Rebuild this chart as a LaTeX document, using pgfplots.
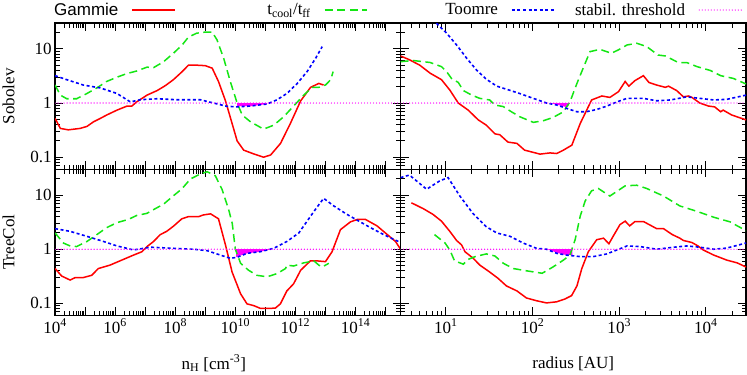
\documentclass[border=0pt]{standalone}
\usepackage{fontspec}
\setmainfont{Liberation Serif}
\setsansfont{Liberation Sans}
\usepackage{pgfplots}
\pgfplotsset{compat=1.18}
\usepgfplotslibrary{groupplots}
\usetikzlibrary{calc}
\definecolor{gRed}{RGB}{255,0,0}
\definecolor{gGreen}{RGB}{20,230,20}
\definecolor{gBlue}{RGB}{0,0,255}
\definecolor{gMag}{RGB}{255,0,255}

\pgfplotsset{
  gammie/.style={color=gRed, line width=1.5pt, solid},
  tcool/.style={color=gGreen, line width=1.5pt, dash pattern=on 8pt off 4.5pt},
  toomre/.style={color=gBlue, line width=1.6pt, dash pattern=on 3pt off 2.5pt},
  stabline/.style={draw=gMag, line width=1.4pt, line cap=round, dash pattern=on 0pt off 3pt},
  stabfill/.style={fill=gMag, draw=none, forget plot},
}

\begin{document}
\begin{tikzpicture}[font=\fontsize{17}{20}\selectfont]
\begin{groupplot}[
  group style={group size=2 by 2, horizontal sep=0pt, vertical sep=0pt},
  width=345pt, height=146pt, scale only axis,
  xmode=log, ymode=log, ymin=0.06, ymax=30,
  ytick={0.1,1,10},
  minor ytick={0.06,0.07,0.08,0.09,0.2,0.3,0.4,0.5,0.6,0.7,0.8,0.9,2,3,4,5,6,7,8,9,20},
  major tick length=8pt, minor tick length=4.5pt,
  every tick/.style={black, line width=1pt},
  axis line style={line width=1.2pt},
  tick label style={font=\fontsize{17}{20}\selectfont},
  label style={font=\fontsize{17}{20}\selectfont},
  every axis y label/.style={at={(axis description cs:-0.135,0.5)}, rotate=90, anchor=center},
  every axis x label/.style={at={(axis description cs:0.5,0)}, anchor=center, yshift=-48pt},
  legend plot pos=right,
  legend image code/.code={\path[draw=none] (0pt,0pt) -- (58pt,0pt); \draw[#1] (14pt,0pt) -- (56pt,0pt);},
]
% ---- Sobolev, density
\nextgroupplot[xmin=1e4, xmax=3.16e15,
  xtick={1e4,1e5,1e6,1e7,1e8,1e9,1e10,1e11,1e12,1e13,1e14,1e15}, xticklabels={},
  yticklabels={0.1,1,10}, ylabel={Sobolev},
  legend columns=4,
  legend style={at={(axis description cs:-0.02,1.089)}, anchor=west, draw=none, fill=none,
    inner sep=0pt, column sep=0pt, nodes={inner sep=0pt}, font=\fontsize{17}{20}\selectfont}]
\addplot[stabfill] coordinates {(1.15e10,1) (1.15e10,0.88) (3.2e10,0.87) (1.15e11,0.96) (1.15e11,1)};
\addplot[gammie] coordinates {(1e4,0.52) (1.5e4,0.34) (2.75e4,0.32) (6.8e4,0.34) (1.15e5,0.37) (1.9e5,0.45) (3.2e5,0.52) (5.2e5,0.6) (1.15e6,0.74) (2.5e6,0.88) (3.6e6,0.88) (5.2e6,1.05) (1.15e7,1.4) (2.5e7,1.7) (4.7e7,2.1) (8.7e7,2.7) (1.7e8,3.8) (2.75e8,5.0) (5.2e8,5.0) (1e9,4.9) (1.7e9,4.4) (2.75e9,2.5) (4.7e9,1.1) (7.8e9,0.42) (1.15e10,0.2) (1.9e10,0.135) (4.1e10,0.115) (8.7e10,0.1) (1.5e11,0.11) (3.2e11,0.18) (6.8e11,0.42) (1.5e12,1.1) (3.2e12,1.95) (6e12,2.3) (8.7e12,2.15)};
\addlegendentry{\makebox[70pt][r]{\sffamily Gammie}}
\addplot[tcool] coordinates {(1e4,2.15) (1.5e4,1.4) (2.45e4,1.2) (5.2e4,1.2) (1.15e5,1.5) (2.45e5,1.9) (5.2e5,2.5) (1.15e6,3.0) (2.45e6,3.5) (5.2e6,3.9) (1.15e7,4.6) (1.9e7,4.5) (4.1e7,5.8) (8.7e7,8.3) (1.7e8,11.8) (2.75e8,16.5) (5.2e8,19.5) (1e9,20.4) (1.7e9,20.4) (2.45e9,14.7) (4.1e9,6.7) (6.8e9,2.5) (1.15e10,1.0) (1.7e10,0.6) (3.2e10,0.45) (8.7e10,0.33) (1.9e11,0.39) (4.1e11,0.56) (8.7e11,0.88) (1.9e12,1.4) (3.6e12,1.95) (6e12,1.95) (1e13,2.15) (1.5e13,2.7) (1.8e13,3.8)};
\addlegendentry{\makebox[134pt][r]{t\textsubscript{cool}/t\textsubscript{ff}}}
\addplot[toomre] coordinates {(1e4,3.2) (2.45e4,2.7) (8.7e4,2.15) (3.2e5,1.9) (1.15e6,1.5) (3.2e6,1.05) (6.8e6,1.15) (2.45e7,1.2) (1.15e8,1.15) (6.8e8,1.15) (1.9e9,1.0) (5.2e9,0.87) (1.15e10,0.85) (3.2e10,0.88) (1.15e11,0.96) (2.45e11,1.15) (5.2e11,1.5) (1.15e12,2.3) (2.45e12,3.8) (4.7e12,6.7) (7.8e12,11)};
\addlegendentry{\makebox[129pt][r]{Toomre}}
\addplot[stabline] coordinates {(1e4,1) (3.16e15,1)};
\addlegendentry{\makebox[129pt][r]{stabil. threshold}}

% ---- Sobolev, radius
\nextgroupplot[xmin=3, xmax=2.9e4,
  xtick={10,100,1000,10000}, xticklabels={},
  minor xtick={4,5,6,7,8,9,20,30,40,50,60,70,80,90,200,300,400,500,600,700,800,900,2000,3000,4000,5000,6000,7000,8000,9000,20000},
  yticklabels={}]
\addplot[stabfill] coordinates {(160,1) (240,0.85) (260,0.88) (260,1)};
\addplot[gammie] coordinates {(3.0,7.4) (3.8,6.3) (5.0,5.0) (6.6,3.55) (8.9,2.7) (11.1,1.74) (13.9,1.0) (18.1,0.74) (23.6,0.49) (29.3,0.39) (36.8,0.27) (41.9,0.26) (52,0.19) (66,0.18) (81,0.135) (122,0.114) (159,0.12) (190,0.117) (227,0.135) (284,0.167) (355,0.42) (480,1.14) (630,1.35) (780,1.27) (980,1.62) (1170,2.5) (1290,2.05) (1520,2.6) (1900,3.2) (2200,2.4) (2700,2.15) (3400,1.95) (3700,2.05) (4600,1.7) (5500,1.3) (6300,1.35) (6900,1.27) (8500,1.0) (10700,0.88) (12600,0.85) (14800,0.69) (15800,0.74) (19900,0.6) (29000,0.49)};
\addplot[tcool] coordinates {(3.0,5.8) (4.2,6.1) (6.6,5.6) (8.9,4.7) (10.2,3.8) (11.6,2.85) (13.9,2.4) (15.9,1.7) (19.9,1.4) (24.6,1.22) (32,1.14) (36.8,0.92) (46,0.86) (57,0.69) (71,0.56) (102,0.44) (132,0.47) (172,0.54) (227,0.69) (270,1.05) (325,2.3) (390,4.7) (460,8.9) (600,9.8) (810,8.3) (980,9.6) (1230,11.8) (1590,12.7) (2080,11) (2800,7.7) (3400,7.4) (4800,5.6) (6000,5.6) (7900,4.7) (11200,4.0) (14800,3.2) (20700,2.85) (29000,2.25)};
\addplot[toomre] coordinates {(7.0,35) (10.2,19.5) (13.3,11.8) (17.4,6.7) (22.5,4.1) (29.3,2.75) (38.6,2.05) (50,1.8) (71,1.5) (102,1.22) (145,1.0) (190,0.92) (245,0.8) (325,0.69) (415,0.69) (550,0.76) (720,0.88) (940,1.05) (1230,1.22) (1900,1.22) (2700,1.1) (3900,1.14) (6000,1.3) (8500,1.22) (12300,1.14) (17400,1.17) (29000,1.4)};
\addplot[stabline] coordinates {(3,1) (2.9e4,1)};

% ---- TreeCol, density
\nextgroupplot[xmin=1e4, xmax=3.16e15,
  xtick={1e4,1e5,1e6,1e7,1e8,1e9,1e10,1e11,1e12,1e13,1e14,1e15},
  xticklabels={10\textsuperscript{4},,10\textsuperscript{6},,10\textsuperscript{8},,10\textsuperscript{10},,10\textsuperscript{12},,10\textsuperscript{14},},
  yticklabels={0.1,1,10}, ylabel={TreeCol},
  xlabel={n\textsubscript{H} [cm\textsuperscript{-3}]}, xlabel style={xshift=-14pt}]
\addplot[stabfill] coordinates {(1.07e10,1) (1.07e10,0.72) (2.45e10,0.84) (6.8e10,0.9) (1.6e11,1)};
\addplot[gammie] coordinates {(1e4,0.44) (1.66e4,0.32) (3.16e4,0.27) (4.7e4,0.3) (8.7e4,0.3) (1.66e5,0.33) (2.75e5,0.44) (6.8e5,0.51) (1.66e6,0.63) (4.1e6,0.78) (7.8e6,0.9) (1.15e7,1.12) (1.9e7,1.39) (3.16e7,1.86) (5.2e7,2.14) (8.7e7,2.66) (1.66e8,3.65) (2.75e8,4.0) (6e8,4.0) (8.7e8,4.3) (1.5e9,4.5) (2.75e9,3.65) (4.7e9,1.2) (7.8e9,0.38) (1.5e10,0.15) (2.45e10,0.098) (4.1e10,0.091) (6.8e10,0.081) (1.5e11,0.081) (2.15e11,0.082) (3.16e11,0.098) (5.2e11,0.17) (8.7e11,0.23) (1.5e12,0.41) (3.16e12,0.61) (5.2e12,0.61) (1e13,0.59) (1.66e13,0.9) (3.16e13,2.3) (6.8e13,3.2) (1.15e14,3.55) (2.15e14,3.55) (5.2e14,2.7) (1.15e15,1.86) (2.15e15,1.39) (3.16e15,1.0)};
\addplot[tcool] coordinates {(1e4,2.0) (1.9e4,1.3) (3.16e4,1.15) (5.2e4,1.12) (1.15e5,1.39) (2.45e5,1.86) (5.2e5,2.5) (1.15e6,3.1) (2.75e6,3.55) (5.2e6,4.2) (1.15e7,4.6) (2.15e7,5.6) (4.1e7,6.8) (8.7e7,9.7) (1.66e8,13) (3.2e8,19.8) (6.8e8,24.5) (1.15e9,27) (2.15e9,22.8) (3.6e9,12.8) (6e9,5.4) (7.9e9,3.0) (1e10,1.0) (1.5e10,0.55) (2.75e10,0.41) (5.2e10,0.33) (1.15e11,0.31) (2.45e11,0.355) (4.7e11,0.44) (5.2e11,0.51) (8.7e11,0.49) (1.9e12,0.56) (4.1e12,0.61) (6e12,0.51) (7.8e12,0.47) (1.3e13,0.55)};
\addplot[toomre] coordinates {(1e4,2.4) (3.16e4,2.14) (1.15e5,1.73) (4.1e5,1.39) (1.15e6,1.15) (4.1e6,0.97) (1.5e7,1.09) (8.7e7,1.04) (4.1e8,1.0) (1.15e9,0.94) (3.16e9,0.78) (6.8e9,0.68) (1.15e10,0.71) (2.45e10,0.84) (6.8e10,0.9) (1.9e11,1.04) (5.2e11,1.39) (1.3e12,2.0) (2.45e12,3.3) (4.7e12,5.5) (8.7e12,8.7) (1.9e13,6.3) (5.2e13,4.4) (1.3e14,3.3) (3.16e14,2.5) (8.7e14,1.86) (3.16e15,1.33)};
\addplot[stabline] coordinates {(1e4,1) (3.16e15,1)};

% ---- TreeCol, radius
\nextgroupplot[xmin=3, xmax=2.9e4,
  xtick={10,100,1000,10000},
  xticklabels={10\textsuperscript{1},10\textsuperscript{2},10\textsuperscript{3},10\textsuperscript{4}},
  minor xtick={4,5,6,7,8,9,20,30,40,50,60,70,80,90,200,300,400,500,600,700,800,900,2000,3000,4000,5000,6000,7000,8000,9000,20000},
  yticklabels={}, xlabel={radius [AU]}]
\addplot[stabfill] coordinates {(150,1) (190,0.86) (245,0.78) (288,0.79) (288,1)};
\addplot[gammie] coordinates {(4.0,7.2) (5.5,5.6) (7.1,4.4) (8.9,3.3) (11.1,2.14) (13.3,1.45) (15.2,1.2) (16.6,0.9) (20.7,0.68) (24.6,0.51) (32,0.38) (40,0.29) (50,0.21) (66,0.17) (85,0.126) (111,0.112) (145,0.102) (190,0.107) (235,0.12) (282,0.139) (325,0.21) (370,0.44) (440,0.9) (550,1.5) (660,1.6) (760,1.26) (850,1.73) (1020,2.85) (1170,3.3) (1320,2.7) (1520,3.25) (1900,3.25) (2400,2.66) (2700,2.4) (3240,2.4) (4100,1.86) (5000,1.6) (5500,1.45) (6900,1.33) (8100,1.15) (9300,0.97) (12300,0.78) (17400,0.63) (22900,0.56) (29000,0.47)};
\addplot[tcool] coordinates {(7.4,1.86) (9.8,1.3) (11.1,0.97) (12.6,0.61) (15.9,0.53) (18.1,0.65) (21.7,0.73) (29.3,0.82) (36.8,0.75) (46,0.55) (60,0.44) (85,0.4) (129,0.36) (172,0.47) (227,0.63) (270,0.78) (310,1.5) (355,4.1) (405,7.8) (480,12) (575,13.2) (780,9.6) (1170,14.8) (1590,15.2) (2080,13.2) (3240,9.6) (5000,6.3) (7900,5.0) (12300,3.9) (19000,3.2) (29000,2.2)};
\addplot[toomre] coordinates {(3.0,21) (3.8,23.4) (6.0,12.8) (8.5,18.3) (10.6,21) (14.5,9.6) (20.7,4.5) (29.3,2.6) (38.6,2.0) (55,1.73) (78,1.3) (111,1.04) (145,1.0) (190,0.84) (245,0.78) (355,0.73) (500,0.73) (720,0.82) (940,0.97) (1230,1.15) (1740,1.12) (2700,1.0) (4270,1.09) (6000,1.15) (8500,1.09) (12300,1.0) (17400,1.05) (29000,1.3)};
\addplot[stabline] coordinates {(3,1) (2.9e4,1)};
\end{groupplot}
\pgfresetboundingbox
\path[use as bounding box] ($(group c1r1.north west)+(-55pt,23pt)$) rectangle ($(group c2r2.south east)+(1pt,-59pt)$);
\end{tikzpicture}
\end{document}
